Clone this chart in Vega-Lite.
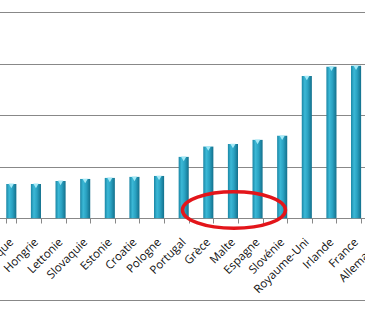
{
  "$schema": "https://vega.github.io/schema/vega-lite/v6.json",
  "width": 366,
  "height": 288,
  "autosize": {"type": "none"},
  "padding": {"left": -1, "top": 12, "right": 0, "bottom": 11},
  "background": "white",
  "config": {"view": {"stroke": "#888888", "strokeWidth": 1}},
  "data": {
    "values": [
      {"pays": "République tchèque", "salaire": 333},
      {"pays": "Hongrie", "salaire": 333},
      {"pays": "Lettonie", "salaire": 362},
      {"pays": "Slovaquie", "salaire": 381},
      {"pays": "Estonie", "salaire": 391},
      {"pays": "Croatie", "salaire": 401},
      {"pays": "Pologne", "salaire": 410},
      {"pays": "Portugal", "salaire": 595},
      {"pays": "Grèce", "salaire": 695},
      {"pays": "Malte", "salaire": 720},
      {"pays": "Espagne", "salaire": 760},
      {"pays": "Slovénie", "salaire": 800},
      {"pays": "Royaume-Uni", "salaire": 1380},
      {"pays": "Irlande", "salaire": 1470},
      {"pays": "France", "salaire": 1478},
      {"pays": "Allemagne", "salaire": 1473}
    ]
  },
  "encoding": {
    "x": {
      "field": "pays",
      "type": "nominal",
      "scale": {
        "domain": ["République tchèque", "Hongrie", "Lettonie", "Slovaquie", "Estonie", "Croatie", "Pologne", "Portugal", "Grèce", "Malte", "Espagne", "Slovénie", "Royaume-Uni", "Irlande", "France", "Allemagne"],
        "range": [0, 394],
        "paddingInner": 0.59,
        "paddingOuter": 0.295
      },
      "axis": {
        "title": null,
        "labelAngle": -45,
        "offset": -82,
        "tickBand": "extent",
        "tickSize": 5,
        "tickColor": "#888888",
        "domainColor": "#888888",
        "labelFont": "Open Sans",
        "labelFontSize": 11.5,
        "labelColor": "#111111",
        "labelPadding": 13,
        "labelOffset": -4,
        "labelOverlap": false,
        "grid": false
      }
    }
  },
  "layer": [
    {
      "mark": {
        "type": "bar",
        "fill": {
          "gradient": "linear",
          "x1": 0, "y1": 0, "x2": 1, "y2": 0,
          "stops": [
            {"offset": 0, "color": "#1a86a5"},
            {"offset": 0.3, "color": "#3bb8d6"},
            {"offset": 0.6, "color": "#2aa2c2"},
            {"offset": 1, "color": "#13708c"}
          ]
        }
      },
      "encoding": {
        "y": {
          "field": "salaire",
          "type": "quantitative",
          "scale": {"domain": [-793, 2000], "nice": false, "zero": false},
          "axis": {"values": [0, 500, 1000, 1500, 2000], "grid": true, "gridColor": "#888888", "labels": false, "ticks": false, "domain": false, "title": null}
        },
        "y2": {"datum": 0}
      }
    },
    {
      "mark": {"type": "point", "shape": "triangle-down", "filled": true, "color": "#a6eaf7", "opacity": 1, "size": 28, "yOffset": 2},
      "encoding": {"y": {"field": "salaire", "type": "quantitative"}}
    },
    {
      "data": {"values": [{}]},
      "mark": {"type": "point", "shape": "M-1,0A1,0.355,0,1,0,1,0A1,0.355,0,1,0,-1,0Z", "filled": false, "stroke": "#e3151a", "strokeWidth": 3.5, "opacity": 1, "size": 10609, "xOffset": 1},
      "encoding": {"x": {"datum": "Malte"}, "y": {"datum": 80}}
    }
  ]
}
